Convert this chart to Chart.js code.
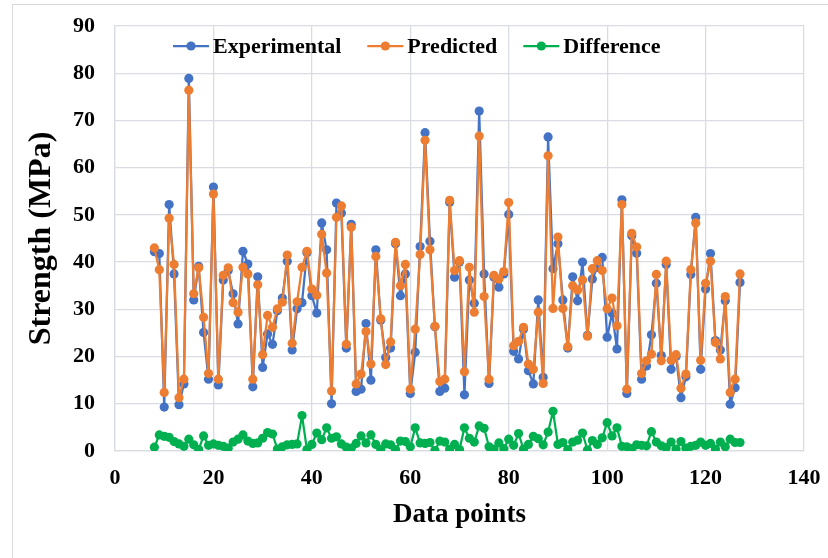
<!DOCTYPE html>
<html>
<head>
<meta charset="utf-8">
<script src="https://cdn.jsdelivr.net/npm/chart.js@4/dist/chart.umd.min.js"></script>
<style>
  html, body { margin: 0; padding: 0; background: #fff; overflow: hidden; }
  #wrap { position: relative; width: 828px; height: 558px; }
  #frame { position: absolute; left: 12px; top: 4px; width: 900px; height: 700px; border: 1px solid #d9d9d9; }
  #myChart { position: absolute; left: 0; top: 0; }
</style>
</head>
<body>
<div id="wrap">
  <div id="frame"></div>
  <canvas id="myChart" width="828" height="558"></canvas>
</div>
<script>
// data point numbers (x axis)
var points = [
    8, 9, 10, 11, 12, 13, 14, 15, 16, 17,
    18, 19, 20, 21, 22, 23, 24, 25, 26, 27,
    28, 29, 30, 31, 32, 33, 34, 35, 36, 37,
    38, 39, 40, 41, 42, 43, 44, 45, 46, 47,
    48, 49, 50, 51, 52, 53, 54, 55, 56, 57,
    58, 59, 60, 61, 62, 63, 64, 65, 66, 67,
    68, 69, 70, 71, 72, 73, 74, 75, 76, 77,
    78, 79, 80, 81, 82, 83, 84, 85, 86, 87,
    88, 89, 90, 91, 92, 93, 94, 95, 96, 97,
    98, 99, 100, 101, 102, 103, 104, 105, 106, 107,
    108, 109, 110, 111, 112, 113, 114, 115, 116, 117,
    118, 119, 120, 121, 122, 123, 124, 125, 126, 127
];

var experimental = [
    42.2, 41.8, 9.3, 52.2, 37.5, 9.8, 14.2, 78.9, 32.0, 39.1,
    25.1, 15.2, 55.9, 14.0, 36.2, 38.2, 33.3, 26.9, 42.3, 39.6,
    13.6, 36.9, 17.7, 24.8, 22.6, 29.7, 32.4, 40.2, 21.4, 30.1,
    31.4, 42.0, 32.9, 29.2, 48.3, 42.6, 10.0, 52.5, 50.4, 21.8,
    48.0, 12.6, 13.1, 27.0, 15.0, 42.6, 27.7, 19.8, 21.8, 43.9,
    32.9, 37.5, 12.2, 20.9, 43.3, 67.4, 44.4, 26.3, 12.6, 13.3,
    52.7, 36.8, 40.0, 11.9, 36.2, 31.3, 72.0, 37.5, 14.3, 36.8,
    34.7, 37.5, 50.1, 21.1, 19.5, 25.8, 17.0, 14.2, 32.0, 15.6,
    66.5, 38.6, 43.9, 32.0, 21.8, 36.9, 31.8, 40.0, 24.5, 36.4,
    38.9, 41.0, 24.1, 29.2, 21.6, 53.2, 12.2, 45.6, 41.9, 15.2,
    18.0, 24.6, 35.5, 20.2, 39.5, 17.3, 20.0, 11.3, 15.7, 37.4,
    49.5, 17.3, 34.3, 41.8, 23.4, 21.4, 31.8, 9.9, 13.4, 35.7
];

var predicted = [
    43.0, 38.4, 12.4, 49.3, 39.5, 11.3, 15.2, 76.4, 33.3, 38.8,
    28.3, 16.4, 54.4, 15.2, 37.2, 38.8, 31.4, 29.4, 38.9, 37.5,
    15.2, 35.2, 20.4, 28.7, 26.2, 30.1, 31.5, 41.5, 22.8, 31.6,
    38.9, 42.3, 34.3, 33.0, 45.9, 37.7, 12.7, 49.5, 51.9, 22.6,
    47.4, 14.2, 16.3, 25.3, 18.4, 41.2, 28.0, 18.3, 23.1, 44.2,
    35.0, 39.5, 13.1, 25.8, 41.6, 65.8, 42.6, 26.4, 14.7, 15.2,
    53.1, 38.2, 40.3, 16.8, 38.9, 29.4, 66.7, 32.7, 15.2, 37.2,
    36.4, 38.0, 52.6, 22.3, 23.2, 26.2, 18.4, 17.3, 29.4, 14.3,
    62.5, 30.2, 45.3, 30.2, 22.1, 35.0, 34.1, 36.2, 24.3, 38.6,
    40.3, 38.2, 30.1, 32.4, 26.5, 52.2, 13.1, 46.1, 43.2, 16.4,
    19.1, 20.5, 37.4, 19.1, 40.2, 19.2, 20.4, 13.3, 16.3, 38.4,
    48.3, 19.2, 35.5, 40.2, 23.0, 19.5, 32.7, 12.4, 15.2, 37.5
];

var difference = [
    0.8, 3.4, 3.1, 2.9, 2.0, 1.5, 1.0, 2.5, 1.3, 0.3,
    3.2, 1.2, 1.5, 1.2, 1.0, 0.6, 1.9, 2.5, 3.4, 2.1,
    1.6, 1.7, 2.7, 3.9, 3.6, 0.4, 0.9, 1.3, 1.4, 1.5,
    7.5, 0.3, 1.4, 3.8, 2.4, 4.9, 2.7, 3.0, 1.5, 0.8,
    0.6, 1.6, 3.2, 1.7, 3.4, 1.4, 0.3, 1.5, 1.3, 0.3,
    2.1, 2.0, 0.9, 4.9, 1.7, 1.6, 1.8, 0.1, 2.1, 1.9,
    0.4, 1.4, 0.3, 4.9, 2.7, 1.9, 5.3, 4.8, 0.9, 0.4,
    1.7, 0.5, 2.5, 1.2, 3.7, 0.4, 1.4, 3.1, 2.6, 1.3,
    4.0, 8.4, 1.4, 1.8, 0.3, 1.9, 2.3, 3.8, 0.2, 2.2,
    1.4, 2.8, 6.0, 3.2, 4.9, 1.0, 0.9, 0.5, 1.3, 1.2,
    1.1, 4.1, 1.9, 1.1, 0.7, 1.9, 0.4, 2.0, 0.6, 1.0,
    1.2, 1.9, 1.2, 1.6, 0.4, 1.9, 0.9, 2.5, 1.8, 1.8
];

var xTicks = [0, 20, 40, 60, 80, 100, 120, 140];
var yTicks = [0, 10, 20, 30, 40, 50, 60, 70, 80, 90];

var FONT = '"Liberation Serif", "Times New Roman", serif';
var GRID = '#d9dce3';

function toXY(ys) {
    return ys.map(function (v, i) { return { x: points[i], y: v }; });
}

function series(label, color, values, order) {
    return {
        label: label,
        data: toXY(values),
        borderColor: color,
        backgroundColor: color,
        borderWidth: 2.25,
        borderJoinStyle: 'round',
        pointRadius: 4.6,
        pointBorderWidth: 0,
        pointBackgroundColor: color,
        tension: 0,
        order: order
    };
}

// legend drawn inside the plot, Excel style (line + marker)
var insideLegend = {
    id: 'insideLegend',
    afterDraw: function (chart) {
        var ctx = chart.ctx;
        var area = chart.chartArea;
        var x = area.left + 58;
        var y = area.top + 20;
        ctx.save();
        ctx.font = 'bold 22px ' + FONT;
        ctx.textBaseline = 'middle';
        chart.data.datasets.forEach(function (ds) {
            ctx.strokeStyle = ds.borderColor;
            ctx.lineWidth = 2.25;
            ctx.beginPath();
            ctx.moveTo(x, y);
            ctx.lineTo(x + 36, y);
            ctx.stroke();
            ctx.fillStyle = ds.borderColor;
            ctx.beginPath();
            ctx.arc(x + 18, y, 4.6, 0, Math.PI * 2);
            ctx.fill();
            ctx.fillStyle = '#000';
            ctx.fillText(ds.label, x + 40, y + 1);
            x += 40 + ctx.measureText(ds.label).width + 26;
        });
        ctx.restore();
    }
};

// let layout.padding alone decide where the plot area sits
function noEdgePadding(scale) {
    scale.paddingTop = 0;
    scale.paddingBottom = 0;
    scale.paddingLeft = 0;
    scale.paddingRight = 0;
}

var ctx = document.getElementById('myChart').getContext('2d');
var chart = new Chart(ctx, {
    type: 'line',
    data: {
        datasets: [
            series('Experimental', '#4472C4', experimental, 3),
            series('Predicted', '#ED7D31', predicted, 2),
            series('Difference', '#00B050', difference, 1)
        ]
    },
    options: {
        responsive: false,
        animation: false,
        layout: { autoPadding: false, padding: { left: 0, right: 24, top: 26, bottom: 0 } },
        plugins: {
            legend: { display: false },
            tooltip: { enabled: false }
        },
        scales: {
            x: {
                type: 'linear',
                min: xTicks[0],
                max: xTicks[xTicks.length - 1],
                afterBuildTicks: function (scale) {
                    scale.ticks = xTicks.map(function (v) { return { value: v }; });
                },
                afterFit: function (scale) {
                    scale.height = 107;
                    noEdgePadding(scale);
                },
                grid: { color: GRID, lineWidth: 1.25, drawTicks: false },
                border: { color: GRID, width: 1.25 },
                ticks: {
                    padding: 14,
                    color: '#000',
                    font: { family: FONT, size: 22, weight: 'bold' }
                },
                title: {
                    display: true,
                    text: 'Data points',
                    color: '#000',
                    padding: { top: 0, bottom: 27 },
                    font: { family: FONT, size: 27, weight: 'bold' }
                }
            },
            y: {
                min: yTicks[0],
                max: yTicks[yTicks.length - 1],
                afterBuildTicks: function (scale) {
                    scale.ticks = yTicks.map(function (v) { return { value: v }; });
                },
                afterFit: function (scale) {
                    scale.width = 115;
                    noEdgePadding(scale);
                },
                grid: { color: GRID, lineWidth: 1.25, drawTicks: false },
                border: { color: GRID, width: 1.25 },
                ticks: {
                    padding: 20,
                    color: '#000',
                    font: { family: FONT, size: 22, weight: 'bold' }
                },
                title: {
                    display: true,
                    text: 'Strength (MPa)',
                    color: '#000',
                    padding: { top: 23, bottom: 0 },
                    font: { family: FONT, size: 32, weight: 'bold' }
                }
            }
        }
    },
    plugins: [insideLegend]
});
</script>
</body>
</html>
